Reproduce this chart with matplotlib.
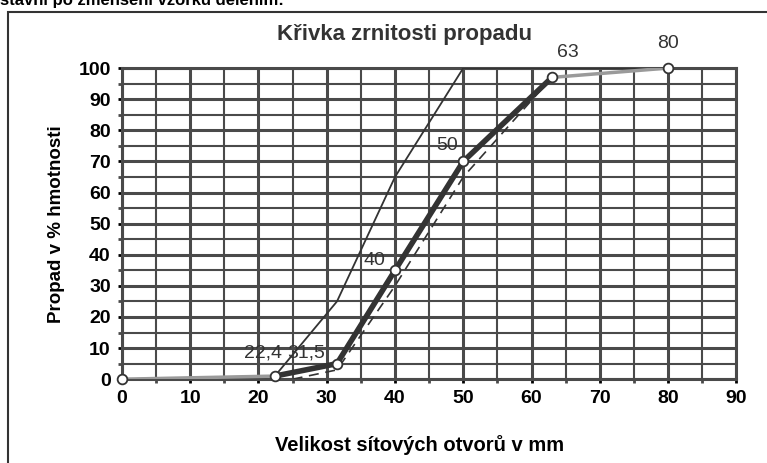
import matplotlib.pyplot as plt
from matplotlib.patches import Rectangle

plt.rcParams['font.family'] = ['Liberation Sans', 'DejaVu Sans']

# sieve curve (measured)
sieve = [0, 22.4, 31.5, 40, 50, 63, 80]
passing = [0, 1, 5, 35, 70, 97, 100]
point_labels = ["", "22,4", "31,5", "40", "50", "63", "80"]

# upper limit curve
upper_x = [0, 22.4, 31.5, 40, 50, 80]
upper_y = [0, 1, 25, 65, 100, 100]

# lower limit curve
lower_x = [25, 31.5, 40, 50, 63, 80]
lower_y = [0, 3, 30, 65, 97, 100]

# label offsets in data units
label_dx = [0, -1.8, -4.5, -3.0, -2.4, 2.3, 0]
label_dy = [0, 7.5, 3.3, 3.0, 5.0, 8.0, 8.0]

grid_col = "#4a4a4a"
ink = "#333333"

fig = plt.figure(figsize=(7.67, 4.63), dpi=100)
ax = fig.add_axes([0.159, 0.181, 0.801, 0.672])

ax.set_xlim(0, 90)
ax.set_ylim(0, 100)
ax.set_xticks(range(0, 91, 10))
ax.set_yticks(range(0, 101, 10))
ax.set_xticks(range(0, 91, 5), minor=True)
ax.set_yticks(range(0, 101, 5), minor=True)
ax.grid(which="major", color=grid_col, linewidth=2.2)
ax.grid(which="minor", color=grid_col, linewidth=1.5)
ax.set_axisbelow(True)
for s in ax.spines.values():
    s.set_color(grid_col)
    s.set_linewidth(2.2)
ax.tick_params(which="both", length=3, color=grid_col, width=2)
ax.tick_params(labelsize=14, colors="black", pad=5)
for t in ax.get_xticklabels() + ax.get_yticklabels():
    t.set_fontweight("bold")

ax.plot(upper_x, upper_y, color=ink, linewidth=1.3, zorder=3)
ax.plot(lower_x, lower_y, color=ink, linewidth=1.2, linestyle=(0, (6, 4)), zorder=3)
# faint end segments, thick middle part
ax.plot(sieve[:2], passing[:2], color="#9a9a9a", linewidth=2.5, zorder=4)
ax.plot(sieve[5:], passing[5:], color="#9a9a9a", linewidth=2.5, zorder=4)
ax.plot(sieve[1:6], passing[1:6], color=ink, linewidth=4, zorder=4)
ax.plot(sieve, passing, linestyle="none", zorder=5,
        marker="o", markersize=7, markerfacecolor="white",
        markeredgecolor=ink, markeredgewidth=1.3, clip_on=False)

for x, y, lab, dx, dy in zip(sieve, passing, point_labels, label_dx, label_dy):
    if lab:
        ax.text(x + dx, y + dy, lab, fontsize=14, color=ink, ha="center",
                va="center", zorder=6, clip_on=False)

ax.set_xlabel("Velikost sítových otvorů v mm", fontsize=14.5, fontweight="bold",
              labelpad=20, x=0.485)
ax.set_ylabel("Propad v % hmotnosti", fontsize=13.5, fontweight="bold", labelpad=10)
ax.set_title("Křivka zrnitosti propadu", fontsize=16, fontweight="bold",
             color=ink, pad=20, x=0.46)

# outer frame of the scanned page
fig.patches.append(Rectangle((8 / 767, -0.1), 1.1, 1 - 12 / 463 + 0.1,
                             transform=fig.transFigure, fill=False,
                             edgecolor=ink, linewidth=1.5))
fig.text(0.0, 0.999, "stavní po zmenšení vzorku dělením:", fontsize=12,
         fontweight="bold", va="center", ha="left")

fig.savefig("out.png", dpi=100)
